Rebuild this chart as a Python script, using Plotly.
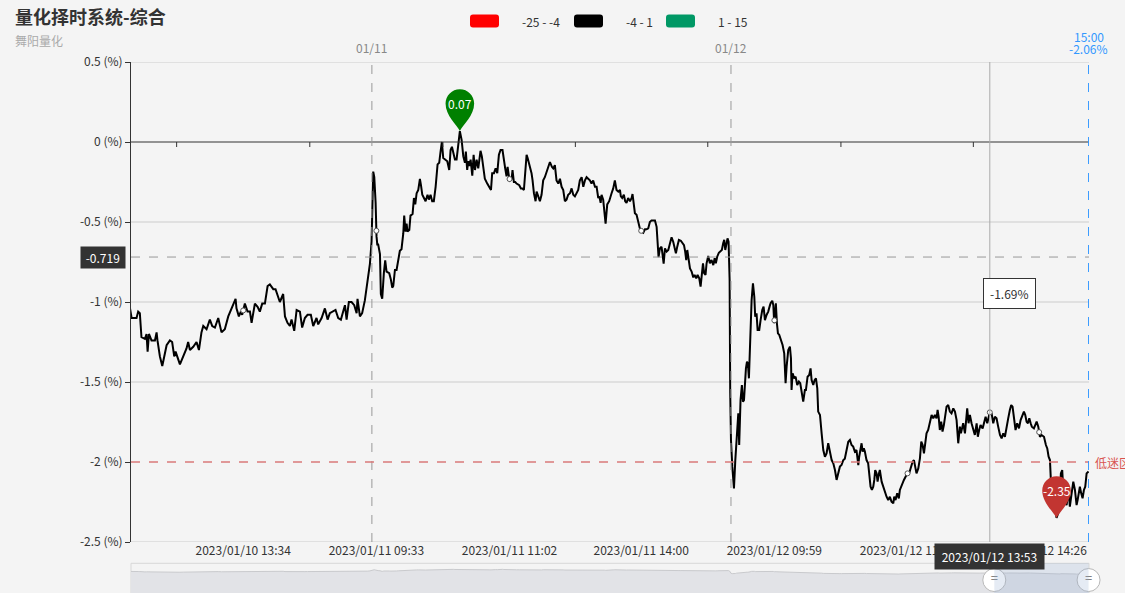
import numpy as np
import plotly.graph_objects as go

title = "量化择时系统-综合"
subtitle = "舞阳量化"

# (交易分钟序号, 涨跌幅%)，序号自 2023/01/10 09:30 起，每个交易日 240 分钟
d10 = [
    (78.0, -1.02), (79.4, -1.10), (82.7, -1.10), (83.8, -1.06), (84.9, -1.07), (86.0, -1.22),
    (88.3, -1.23), (89.4, -1.20), (90.1, -1.31), (91.0, -1.20), (92.3, -1.23), (92.7, -1.24),
    (95.0, -1.24), (96.1, -1.19), (96.7, -1.24), (98.3, -1.34), (99.9, -1.40), (101.2, -1.34),
    (102.8, -1.27), (105.0, -1.24), (106.5, -1.25), (107.9, -1.34), (108.8, -1.31), (111.7, -1.39),
    (113.9, -1.34), (116.1, -1.29), (117.2, -1.25), (118.4, -1.30), (120.6, -1.28), (122.8, -1.25),
    (124.4, -1.30), (126.1, -1.19), (127.3, -1.15), (129.5, -1.17), (131.7, -1.11), (133.3, -1.15),
    (135.1, -1.16), (137.3, -1.10), (139.5, -1.19), (141.7, -1.17), (144.0, -1.09), (145.8, -1.05),
    (147.3, -1.02), (148.9, -0.98), (149.5, -1.04), (151.1, -1.09), (152.4, -1.06), (153.3, -1.08),
    (155.1, -1.01), (156.9, -1.06), (158.5, -1.06), (159.6, -1.13), (161.8, -1.01), (163.6, -1.03),
    (165.1, -1.06), (166.7, -1.01), (168.5, -1.01), (170.3, -0.90), (171.8, -0.89), (174.1, -0.92),
    (175.6, -0.92), (177.4, -0.97), (178.5, -1.00), (180.7, -0.95), (181.9, -1.09), (183.6, -1.13),
    (185.2, -1.15), (186.3, -1.11), (188.1, -1.18), (189.7, -1.05), (191.9, -1.06), (193.4, -1.16),
    (195.2, -1.10), (197.0, -1.08), (199.2, -1.08), (200.8, -1.15), (203.0, -1.10), (204.1, -1.14),
    (206.4, -1.10), (208.6, -1.04), (210.4, -1.11), (211.9, -1.07), (214.2, -1.06), (215.7, -1.05),
    (217.5, -1.10), (219.3, -1.11), (220.8, -1.06), (222.0, -1.02), (223.1, -1.11), (224.6, -1.00),
    (226.4, -1.00), (228.2, -1.02), (229.8, -1.07), (230.4, -0.98), (232.0, -1.09), (233.5, -1.07),
    (235.3, -0.99), (237.1, -0.87), (238.7, -0.76), (239.8, -0.62),
]
d11 = [
    (240.5, -0.24), (240.9, -0.185), (241.6, -0.22), (242.5, -0.38), (243.1, -0.59), (243.6, -0.64),
    (244.2, -0.64), (245.4, -0.70), (246.0, -0.95), (246.9, -0.98), (248.0, -0.82), (248.9, -0.74),
    (249.8, -0.81), (251.6, -0.82), (252.7, -0.86), (253.6, -0.91), (254.3, -0.90), (255.4, -0.80),
    (256.5, -0.80), (257.6, -0.74), (258.7, -0.68), (259.8, -0.67), (261.0, -0.57), (261.6, -0.46),
    (262.5, -0.56), (263.2, -0.51), (263.8, -0.56), (265.0, -0.55), (265.8, -0.46), (267.2, -0.45),
    (268.1, -0.35), (269.0, -0.39), (269.9, -0.32), (271.0, -0.30), (272.1, -0.23), (272.8, -0.27),
    (273.7, -0.33), (274.8, -0.35), (275.9, -0.37), (277.2, -0.33), (278.1, -0.36), (279.2, -0.33),
    (280.3, -0.37), (281.4, -0.37), (282.6, -0.28), (283.9, -0.14), (285.0, -0.13), (285.9, -0.06),
    (286.8, 0.00), (287.7, -0.10), (289.0, -0.11), (290.4, -0.12), (291.7, -0.175), (292.6, -0.05),
    (293.5, -0.03), (294.4, -0.06), (295.5, -0.11), (296.6, -0.11), (297.7, -0.01), (298.8, 0.068),
    (300.0, 0.012), (301.1, -0.09), (302.2, -0.13), (302.8, -0.06), (303.7, -0.175), (304.4, -0.12),
    (305.1, -0.15), (306.0, -0.11), (307.1, -0.21), (308.0, -0.08), (308.9, -0.175), (310.0, -0.11),
    (311.1, -0.165), (311.7, -0.10), (312.6, -0.055), (313.5, -0.09), (314.4, -0.165), (315.5, -0.23),
    (317.1, -0.26), (318.4, -0.28), (319.6, -0.30), (320.4, -0.195), (321.6, -0.195), (322.7, -0.165),
    (323.8, -0.195), (324.9, -0.08), (326.0, -0.05), (327.3, -0.05), (328.2, -0.12), (329.1, -0.165),
    (330.0, -0.215), (330.7, -0.155), (331.6, -0.215), (332.2, -0.24), (333.4, -0.23), (334.0, -0.175),
    (334.9, -0.25), (335.8, -0.25), (336.7, -0.26), (338.5, -0.27), (339.6, -0.29), (340.5, -0.29),
    (341.6, -0.30), (342.7, -0.155), (343.4, -0.08), (344.1, -0.10), (345.6, -0.155), (346.7, -0.195),
    (347.4, -0.24), (348.3, -0.32), (349.4, -0.37), (350.1, -0.31), (351.2, -0.34), (352.3, -0.37),
    (353.4, -0.33), (354.5, -0.24), (355.6, -0.22), (356.8, -0.185), (357.9, -0.145), (359.0, -0.125),
    (360.3, -0.155), (361.2, -0.165), (362.3, -0.145), (363.4, -0.24), (364.6, -0.26), (365.7, -0.23),
    (366.8, -0.28), (367.9, -0.30), (369.0, -0.37), (370.1, -0.36), (371.2, -0.33), (372.4, -0.32),
    (373.5, -0.29), (374.6, -0.33), (375.7, -0.34), (376.8, -0.32), (377.9, -0.30), (379.0, -0.24),
    (380.2, -0.22), (381.3, -0.28), (382.4, -0.24), (383.5, -0.22), (384.6, -0.23), (385.7, -0.24),
    (386.8, -0.26), (387.9, -0.24), (389.1, -0.28), (390.2, -0.28), (391.3, -0.35), (392.0, -0.34),
    (392.9, -0.38), (393.5, -0.33), (394.6, -0.36), (395.3, -0.425), (396.2, -0.51), (397.3, -0.39),
    (398.6, -0.37), (400.2, -0.32), (401.3, -0.29), (402.4, -0.24), (403.5, -0.30), (404.7, -0.31),
    (405.8, -0.30), (406.4, -0.34), (407.3, -0.35), (408.4, -0.33), (409.3, -0.37), (410.2, -0.38),
    (411.3, -0.35), (412.5, -0.37), (413.6, -0.35), (414.2, -0.325), (415.1, -0.38), (415.8, -0.445),
    (416.9, -0.455), (418.0, -0.49), (419.1, -0.54), (420.3, -0.56), (421.4, -0.567), (422.5, -0.546),
    (423.6, -0.546), (424.7, -0.54), (425.8, -0.50), (426.9, -0.49), (429.2, -0.49), (430.3, -0.53),
    (430.9, -0.63), (431.6, -0.72), (432.5, -0.665), (433.6, -0.655), (434.3, -0.705), (435.0, -0.76),
    (435.9, -0.665), (437.0, -0.685), (438.1, -0.675), (439.2, -0.633), (440.3, -0.596), (441.4, -0.623),
    (442.5, -0.675), (443.2, -0.696), (444.1, -0.654), (445.2, -0.612), (446.5, -0.617), (447.7, -0.633),
    (448.6, -0.644), (449.4, -0.685), (450.1, -0.738), (450.8, -0.675), (451.4, -0.706), (452.6, -0.79),
    (453.7, -0.81), (454.8, -0.846), (455.7, -0.831), (456.8, -0.852), (457.7, -0.831), (458.8, -0.852),
    (459.7, -0.904), (460.6, -0.825), (461.3, -0.758), (462.1, -0.821), (463.0, -0.831), (463.7, -0.758),
    (464.8, -0.712), (465.9, -0.758), (467.0, -0.738), (468.2, -0.769), (469.1, -0.727), (469.9, -0.758),
    (470.8, -0.717), (471.9, -0.692), (472.8, -0.685), (473.9, -0.675), (474.8, -0.633), (475.5, -0.612),
    (476.2, -0.675), (477.1, -0.633), (477.7, -0.602), (478.4, -0.623), (479.1, -0.862), (479.5, -1.571),
]
d12 = [
    (480.0, -1.863), (480.9, -2.029), (482.0, -2.165), (482.9, -1.988), (483.8, -1.821), (484.9, -1.696),
    (485.5, -1.894), (486.4, -1.613), (487.3, -1.519), (488.0, -1.623), (488.7, -1.613), (489.3, -1.498),
    (490.0, -1.415), (490.7, -1.373), (491.3, -1.383), (492.0, -1.477), (492.7, -1.217), (493.8, -0.988),
    (494.7, -0.883), (495.6, -0.967), (496.2, -1.092), (497.1, -1.071), (497.8, -1.175), (498.9, -1.175),
    (499.8, -1.113), (500.9, -1.05), (501.8, -1.029), (502.7, -1.113), (503.8, -1.081), (504.9, -1.06),
    (505.8, -1.029), (506.5, -1.008), (507.6, -0.992), (508.3, -1.019), (508.9, -1.133), (509.4, -1.04),
    (510.0, -1.008), (510.7, -1.133), (511.4, -1.196), (512.3, -1.206), (513.4, -1.238), (514.5, -1.269),
    (515.6, -1.321), (516.5, -1.508), (517.2, -1.404), (518.3, -1.30), (519.4, -1.279), (520.1, -1.352),
    (520.5, -1.55), (521.2, -1.446), (522.3, -1.477), (523.2, -1.467), (524.3, -1.519), (525.4, -1.498),
    (526.3, -1.508), (527.4, -1.592), (528.3, -1.623), (529.4, -1.55), (530.1, -1.55), (531.2, -1.467),
    (532.3, -1.456), (533.2, -1.415), (533.9, -1.488), (535.0, -1.519), (535.9, -1.488), (536.8, -1.477),
    (537.7, -1.54), (538.3, -1.685), (539.5, -1.706), (540.6, -1.821), (541.7, -1.925), (542.8, -1.967),
    (543.9, -1.946), (545.0, -1.883), (546.1, -1.935), (547.3, -1.988), (548.4, -2.008), (549.5, -2.05),
    (550.6, -2.112), (551.7, -2.071), (552.8, -2.029), (553.9, -2.019), (555.0, -1.99), (556.1, -1.98),
    (557.3, -1.93), (558.4, -1.873), (559.5, -1.862), (560.6, -1.894), (561.7, -1.904), (562.8, -1.935),
    (563.9, -1.925), (565.1, -2.019), (565.7, -1.967), (566.6, -1.904), (567.3, -1.883), (568.0, -1.935),
    (568.8, -1.915), (569.5, -1.935), (570.6, -1.988), (571.7, -2.008), (572.4, -2.071), (573.3, -2.154),
    (574.2, -2.175), (575.1, -2.154), (575.8, -2.112), (576.4, -2.05), (577.3, -2.071), (578.0, -2.123),
    (578.9, -2.071), (579.5, -2.05), (580.7, -2.123), (581.8, -2.154), (582.9, -2.196), (584.0, -2.217),
    (585.1, -2.238), (586.2, -2.217), (587.3, -2.248), (588.5, -2.258), (589.1, -2.217), (590.0, -2.238),
    (591.1, -2.196), (592.2, -2.227), (592.9, -2.175), (594.0, -2.144), (594.7, -2.123), (595.6, -2.112),
    (596.7, -2.092), (597.8, -2.071), (599.1, -2.071), (600.3, -2.029), (601.4, -1.998), (602.3, -1.988),
    (602.9, -2.019), (604.0, -2.071), (605.2, -2.04), (606.3, -1.977), (607.2, -1.873), (608.1, -1.894),
    (609.0, -1.946), (609.8, -1.883), (610.7, -1.821), (611.8, -1.80), (613.0, -1.738), (614.1, -1.706),
    (615.2, -1.727), (616.3, -1.706), (617.4, -1.727), (618.1, -1.675), (618.8, -1.717), (619.6, -1.80),
    (620.5, -1.748), (621.4, -1.81), (622.3, -1.769), (623.2, -1.717), (624.1, -1.654), (625.2, -1.644),
    (626.3, -1.685), (627.4, -1.696), (628.6, -1.665), (629.7, -1.685), (630.8, -1.738), (631.9, -1.883),
    (633.0, -1.779), (633.7, -1.821), (634.4, -1.79), (635.2, -1.758), (636.4, -1.821), (637.2, -1.727),
    (637.9, -1.665), (638.8, -1.758), (639.7, -1.706), (640.8, -1.758), (641.9, -1.80), (643.0, -1.831),
    (644.2, -1.758), (645.0, -1.842), (645.9, -1.80), (646.8, -1.769), (648.2, -1.79), (649.3, -1.758),
    (650.2, -1.717), (651.3, -1.758), (652.2, -1.727), (653.1, -1.685), (654.2, -1.696), (655.3, -1.758),
    (656.4, -1.717), (657.5, -1.727), (658.6, -1.779), (659.8, -1.831), (660.9, -1.852), (662.0, -1.821),
    (663.1, -1.842), (664.2, -1.769), (665.3, -1.727), (666.4, -1.675), (667.3, -1.644), (668.2, -1.654),
    (669.1, -1.717), (670.2, -1.80), (671.3, -1.758), (672.5, -1.79), (673.6, -1.738), (674.9, -1.706),
    (675.8, -1.685), (676.7, -1.706), (677.6, -1.748), (678.5, -1.758), (679.4, -1.727), (680.3, -1.758),
    (681.1, -1.779), (682.5, -1.79), (683.4, -1.769), (684.3, -1.748), (685.4, -1.779), (686.5, -1.842),
    (687.6, -1.831), (689.2, -1.842), (690.5, -1.894), (691.4, -1.915), (692.3, -1.967), (693.2, -1.988),
    (693.8, -2.112), (695.4, -2.196), (696.7, -2.279), (697.6, -2.35), (698.7, -2.321), (699.9, -2.196),
    (700.5, -2.071), (701.4, -2.05), (702.1, -2.175), (703.2, -2.248), (704.3, -2.269), (705.7, -2.175),
    (706.5, -2.279), (707.7, -2.196), (708.8, -2.123), (709.9, -2.175), (711.0, -2.269), (711.7, -2.238),
    (712.6, -2.175), (713.2, -2.154), (714.1, -2.196), (715.0, -2.227), (715.9, -2.175), (716.8, -2.154),
    (717.7, -2.071), (719.0, -2.06),
]

tick_min = [154, 243, 332, 420, 509, 598, 686]
tick_text = ["2023/01/10 13:34", "2023/01/11 09:33", "2023/01/11 11:02", "2023/01/11 14:00",
             "2023/01/12 09:59", "2023/01/12 11:28", "2023/01/12 14:26"]
day_min = [240, 480]
day_text = ["01/11", "01/12"]
y_ticks = [0.5, 0, -0.5, -1, -1.5, -2, -2.5]

low_line = -2
low_text = "低迷区"
pieces = ["-25 - -4", "-4 - 1", "1 - 15"]
piece_colors = ["#ff0000", "#000000", "#009865"]

hover_min = 653
hover_text = "2023/01/12 13:53"
pointer_y = -0.719
end_time = "15:00"
zoom_window = [656, 719]

pts = d10 + d11 + d12
t_min = np.array([p[0] for p in pts])
pct = np.array([p[1] for p in pts])

# ---- layout helpers (pixels -> paper) ----
W, H = 1125, 593
L, R, T, B = 131, 36, 62, 0
PW, PH = W - L - R, H - T - B


def px_x(px):
    return (px - L) / PW


def px_y(py):
    return (H - B - py) / PH


x_range = [79, 719.3]
font = "Microsoft YaHei, Noto Sans CJK SC, sans-serif"
NB = "\u00a0"


def pin_path(r=14.3, c=27.5):
    k = 0.5523 * r
    return (f"M 0 0 C -3 6 {-r} {c - 12} {-r} {c} "
            f"C {-r} {c + k} {-k} {c + r} 0 {c + r} "
            f"C {k} {c + r} {r} {c + k} {r} {c} "
            f"C {r} {c - 12} 3 6 0 0 Z")


def round_rect(w=29, h=13, r=3):
    a, b = w / 2, h / 2
    return (f"M {-a + r} {b} L {a - r} {b} Q {a} {b} {a} {b - r} L {a} {-b + r} "
            f"Q {a} {-b} {a - r} {-b} L {-a + r} {-b} Q {-a} {-b} {-a} {-b + r} "
            f"L {-a} {b - r} Q {-a} {b} {-a + r} {b} Z")


fig = go.Figure()

fig.add_trace(go.Scatter(x=t_min, y=pct, mode="lines",
                         line=dict(color="#000000", width=2), hoverinfo="skip"))

# symbols shown at label positions and the hovered point
sym_x = [m for m in tick_min if x_range[0] <= m <= x_range[1]] + [hover_min]
sym_y = np.interp(sym_x, t_min, pct)
fig.add_trace(go.Scatter(x=sym_x, y=sym_y, mode="markers",
                         marker=dict(size=5, color="white", line=dict(color="#555", width=1)),
                         hoverinfo="skip"))

# data zoom slider
fig.add_trace(go.Scatter(x=t_min, y=np.full(len(t_min), -30.0), mode="lines",
                         line=dict(width=0), xaxis="x2", yaxis="y2", hoverinfo="skip"))
fig.add_trace(go.Scatter(x=t_min, y=pct, mode="lines", fill="tonexty",
                         fillcolor="#e2e3e7", line=dict(color="#c9cacd", width=1),
                         xaxis="x2", yaxis="y2", hoverinfo="skip"))
fig.add_trace(go.Scatter(x=zoom_window, y=[-5.0, -5.0], mode="markers+text", text=["=", "="],
                         textposition="middle center", textfont=dict(size=13, color="#666"),
                         marker=dict(size=23, color="white", line=dict(color="#b8b8b8", width=1)),
                         xaxis="x2", yaxis="y2", hoverinfo="skip", cliponaxis=False))

shapes = []
for v in y_ticks:
    if v in (0, low_line):
        continue
    shapes.append(dict(type="line", xref="x domain", yref="y", x0=0, x1=1, y0=v, y1=v,
                       line=dict(color="#cccccc", width=1), layer="below"))
shapes.append(dict(type="line", xref="x domain", yref="y", x0=0, x1=1, y0=0, y1=0,
                   line=dict(color="#333333", width=1)))

half = (tick_min[1] - tick_min[0]) / 2
mids = [tick_min[0] - half] + [(a + b) / 2 for a, b in zip(tick_min[:-1], tick_min[1:])]
for m in mids:
    shapes.append(dict(type="line", xref="x", yref="y", ysizemode="pixel", yanchor=0,
                       x0=m, x1=m, y0=0, y1=-5, line=dict(color="#333333", width=1)))

for d in day_min:
    shapes.append(dict(type="line", xref="x", yref="y domain", x0=d, x1=d, y0=0, y1=1,
                       line=dict(color="#999999", width=1, dash="dash")))

shapes.append(dict(type="line", xref="x", yref="y domain", x0=hover_min, x1=hover_min, y0=0, y1=1,
                   line=dict(color="#aaaaaa", width=1)))
shapes.append(dict(type="line", xref="x domain", yref="y", x0=0, x1=1, y0=pointer_y, y1=pointer_y,
                   line=dict(color="#999999", width=1, dash="dash")))
shapes.append(dict(type="line", xref="x domain", yref="y", x0=0, x1=1, y0=low_line, y1=low_line,
                   line=dict(color="#d97a7a", width=1.5, dash="dash")))
shapes.append(dict(type="line", xref="x", yref="y domain", x0=t_min[-1], x1=t_min[-1], y0=0, y1=1,
                   line=dict(color="#3398ff", width=1, dash="dash")))

i_max, i_min = int(np.argmax(pct)), int(np.argmin(pct))
for i, col in ((i_max, "#008000"), (i_min, "#c23531")):
    shapes.append(dict(type="path", xref="x", yref="y", xsizemode="pixel", ysizemode="pixel",
                       xanchor=t_min[i], yanchor=pct[i], path=pin_path(),
                       fillcolor=col, line=dict(width=0)))

# slider frame + selected window
shapes.append(dict(type="rect", xref="x2 domain", yref="y2 domain", x0=0, x1=1, y0=0, y1=1.1,
                   line=dict(color="#d8d8d8", width=1), layer="below"))
shapes.append(dict(type="rect", xref="x2", yref="y2 domain", x0=zoom_window[0], x1=zoom_window[1],
                   y0=0, y1=1.1, fillcolor="rgba(150,175,210,0.25)", line=dict(width=0)))

leg_px = [484.5, 588.5, 680.5]
for cx, col in zip(leg_px, piece_colors):
    shapes.append(dict(type="path", xref="paper", yref="paper", xsizemode="pixel", ysizemode="pixel",
                       xanchor=px_x(cx), yanchor=px_y(21), path=round_rect(),
                       fillcolor=col, line=dict(width=0)))

ann = []
ann.append(dict(text=f"<b>{title}</b>", xref="paper", yref="paper", x=px_x(13), y=px_y(16),
                xanchor="left", yanchor="middle", showarrow=False,
                font=dict(size=18, color="#333333")))
ann.append(dict(text=subtitle, xref="paper", yref="paper", x=px_x(13), y=px_y(40),
                xanchor="left", yanchor="middle", showarrow=False,
                font=dict(size=12, color="#aaaaaa")))
for cx, txt in zip(leg_px, pieces):
    ann.append(dict(text=txt, xref="paper", yref="paper", x=px_x(cx + 35), y=px_y(21),
                    xanchor="left", yanchor="middle", showarrow=False,
                    font=dict(size=12, color="#333333")))
for d, txt in zip(day_min, day_text):
    ann.append(dict(text=txt, xref="x", yref="paper", x=d, y=px_y(48), yanchor="middle",
                    showarrow=False, font=dict(size=12, color="#888888")))
ann.append(dict(text=end_time, xref="x", yref="paper", x=t_min[-1], y=px_y(37), yanchor="middle",
                showarrow=False, font=dict(size=12, color="#3398ff")))
ann.append(dict(text=f"{pct[-1]:.2f}%", xref="x", yref="paper", x=t_min[-1], y=px_y(49),
                yanchor="middle", showarrow=False, font=dict(size=12, color="#3398ff")))
ann.append(dict(text=low_text, xref="paper", yref="y", x=1, y=low_line, xanchor="left",
                xshift=4, showarrow=False, font=dict(size=12, color="#d9534f")))
for i in (i_max, i_min):
    ann.append(dict(text=f"{pct[i]:.2f}", xref="x", yref="y", x=t_min[i], y=pct[i], yshift=27.5,
                    showarrow=False, font=dict(size=12, color="white")))
ann.append(dict(text=f"{NB}{pointer_y:g}{NB}", xref="paper", yref="y", x=0, y=pointer_y,
                xanchor="right", xshift=-5, showarrow=False, bgcolor="#333333", borderpad=2,
                font=dict(size=12, color="white")))
ann.append(dict(text=f"{NB}{hover_text}{NB}", xref="x", yref="paper", x=hover_min, y=px_y(543),
                yanchor="top", showarrow=False, bgcolor="#333333", borderpad=4,
                font=dict(size=12, color="white")))
hover_val = float(np.interp(hover_min, t_min, pct))
ann.append(dict(text=f"{hover_val:.2f}%", xref="paper", yref="paper", x=px_x(1036), y=px_y(293),
                showarrow=False, bgcolor="white", bordercolor="#333333", borderwidth=1,
                borderpad=6, font=dict(size=12, color="#333333")))

fig.update_layout(
    width=W, height=H,
    margin=dict(l=L, r=R, t=T, b=B, pad=0, autoexpand=False),
    paper_bgcolor="#f4f4f4", plot_bgcolor="#f4f4f4",
    font=dict(family=font, size=12, color="#333333"),
    showlegend=False, hovermode=False,
    xaxis=dict(range=x_range, tickvals=tick_min, ticktext=tick_text, showgrid=False,
               zeroline=False, showline=False, ticks="", anchor="y", automargin=False,
               tickfont=dict(size=12, color="#333333")),
    yaxis=dict(domain=[px_y(542), 1], range=[-2.5, 0.5], tickvals=y_ticks,
               ticktext=[f"{v:g} (%)" for v in y_ticks], showgrid=False, zeroline=False,
               showline=True, linecolor="#333333", linewidth=1, ticks="outside", ticklen=5,
               tickcolor="#333333", tickfont=dict(size=12, color="#333333"), automargin=False),
    xaxis2=dict(range=x_range, anchor="y2", visible=False, automargin=False),
    yaxis2=dict(domain=[0, px_y(566)], range=[-11, 1.5], visible=False, automargin=False),
    shapes=shapes, annotations=ann,
)

fig.write_html("out.html", config={"displayModeBar": False},
               post_script="document.body.style.margin='0';document.body.style.background='#f4f4f4';")
